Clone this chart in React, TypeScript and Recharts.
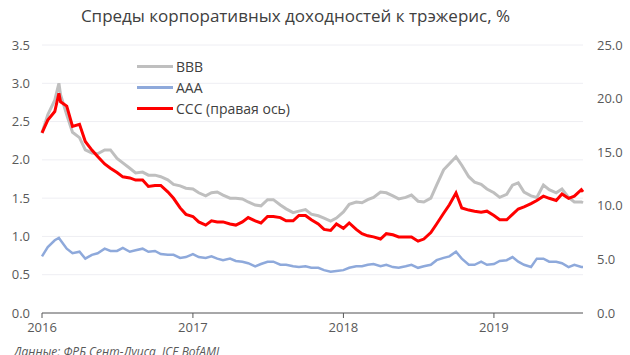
import React from "react";
import { LineChart, Line, XAxis, YAxis, CartesianGrid } from "recharts";

const dates = [
  "2016-01-01","2016-01-15","2016-02-01","2016-02-11","2016-02-15","2016-03-01","2016-03-15","2016-04-01","2016-04-15","2016-05-01","2016-05-15","2016-06-01","2016-06-15","2016-07-01","2016-07-15","2016-08-01","2016-08-15","2016-09-01","2016-09-15","2016-10-01","2016-10-15","2016-11-01","2016-11-15","2016-12-01","2016-12-15",
  "2017-01-01","2017-01-15","2017-02-01","2017-02-15","2017-03-01","2017-03-15","2017-04-01","2017-04-15","2017-05-01","2017-05-15","2017-06-01","2017-06-15","2017-07-01","2017-07-15","2017-08-01","2017-08-15","2017-09-01","2017-09-15","2017-10-01","2017-10-15","2017-11-01","2017-11-15","2017-12-01","2017-12-15",
  "2018-01-01","2018-01-15","2018-02-01","2018-02-15","2018-03-01","2018-03-15","2018-04-01","2018-04-15","2018-05-01","2018-05-15","2018-06-01","2018-06-15","2018-07-01","2018-07-15","2018-08-01","2018-08-15","2018-09-01","2018-09-15","2018-10-01","2018-10-15","2018-11-01","2018-11-15","2018-12-01","2018-12-15",
  "2019-01-01","2019-01-15","2019-02-01","2019-02-15","2019-03-01","2019-03-15","2019-04-01","2019-04-15","2019-05-01","2019-05-15","2019-06-01","2019-06-15","2019-07-01","2019-07-15","2019-08-01","2019-08-05"
];

const bbb = [
  2.35,2.59,2.78,3.00,2.85,2.59,2.36,2.29,2.13,2.09,2.08,2.13,2.13,2.02,1.96,1.89,1.83,1.84,1.80,1.80,1.78,1.74,1.68,1.66,1.63,
  1.62,1.57,1.53,1.57,1.58,1.54,1.50,1.50,1.49,1.45,1.41,1.40,1.48,1.48,1.41,1.36,1.31,1.33,1.35,1.29,1.27,1.24,1.20,1.24,
  1.32,1.42,1.45,1.44,1.48,1.51,1.58,1.57,1.53,1.49,1.51,1.54,1.46,1.45,1.50,1.67,1.87,1.95,2.04,1.93,1.78,1.71,1.68,1.62,
  1.57,1.51,1.55,1.67,1.70,1.58,1.53,1.51,1.67,1.61,1.57,1.62,1.51,1.45,1.45,1.44
];

const aaa = [
  0.74,0.86,0.95,0.98,0.95,0.84,0.78,0.80,0.71,0.76,0.78,0.84,0.81,0.81,0.85,0.80,0.82,0.84,0.80,0.81,0.77,0.76,0.76,0.72,0.73,
  0.77,0.73,0.72,0.74,0.71,0.69,0.71,0.68,0.67,0.65,0.61,0.64,0.67,0.67,0.63,0.63,0.61,0.60,0.61,0.59,0.59,0.56,0.54,0.55,
  0.56,0.59,0.61,0.61,0.63,0.64,0.61,0.63,0.60,0.59,0.61,0.63,0.59,0.61,0.63,0.69,0.72,0.74,0.80,0.71,0.63,0.63,0.67,0.63,
  0.64,0.68,0.69,0.73,0.67,0.63,0.60,0.71,0.71,0.67,0.67,0.65,0.60,0.63,0.60,0.60
];

const ccc = [
  16.8,18.0,18.8,20.5,19.7,19.3,17.4,17.6,16.0,15.2,14.6,13.9,13.5,13.1,12.7,12.6,12.4,12.4,11.8,11.9,11.9,11.3,10.7,9.8,9.2,
  9.0,8.5,8.2,8.6,8.5,8.5,8.3,8.2,8.5,8.9,8.6,8.4,9.0,9.0,8.9,8.6,8.6,9.1,9.1,8.7,8.3,7.8,7.7,8.3,
  7.9,8.4,7.8,7.4,7.2,7.1,6.9,7.4,7.3,7.1,7.1,7.1,6.7,6.9,7.5,8.3,9.3,10.1,11.2,9.8,9.6,9.5,9.4,9.5,
  9.1,8.7,8.7,9.2,9.7,9.9,10.2,10.5,10.9,10.7,10.5,11.1,10.7,10.9,11.5,11.3
];

const yearTicks = ["2016-01-01", "2017-01-01", "2018-01-01", "2019-01-01"];
const leftTicks = [0, 0.5, 1, 1.5, 2, 2.5, 3, 3.5];
const rightTicks = [0, 5, 10, 15, 20, 25];

const title = "Спреды корпоративных доходностей к трэжерис, %";
const source = "Данные: ФРБ Сент-Луиса, ICE BofAML";

const seriesInfo = [
  { key: "bbb", name: "BBB", color: "#BFBFBF" },
  { key: "aaa", name: "AAA", color: "#8EA9DB" },
  { key: "ccc", name: "CCC (правая ось)", color: "#FF0000" },
];

const toTs = (d: string) => Date.parse(d + "T00:00:00Z");

const data = dates.map((d, i) => ({ t: toTs(d), bbb: bbb[i], aaa: aaa[i], ccc: ccc[i] }));

const FONT = "'Open Sans', 'DejaVu Sans', sans-serif";

export default function App() {
  return (
    <div style={{ position: "absolute", left: 0, top: 0, width: 630, height: 355, background: "#fff", overflow: "hidden", fontFamily: FONT }}>
      <div style={{ position: "absolute", left: 0, top: 4, width: 591, textAlign: "center", fontSize: 17, color: "#404040", lineHeight: "24px", whiteSpace: "nowrap" }}>
        {title}
      </div>
      <LineChart
        width={630}
        height={355}
        data={data}
        margin={{ top: 45, right: 7, bottom: 12, left: 8 }}
        style={{ position: "absolute", left: 0, top: 0 }}
      >
        <CartesianGrid horizontal vertical={false} stroke="#EEEEF3" yAxisId="left" />
        <XAxis
          dataKey="t"
          type="number"
          scale="linear"
          domain={[toTs("2016-01-01"), toTs("2019-08-05")]}
          ticks={yearTicks.map(toTs)}
          tickFormatter={(v: number) => String(new Date(v).getUTCFullYear())}
          height={30}
          tickSize={5}
          tickMargin={5}
          axisLine={{ stroke: "#595959" }}
          tickLine={{ stroke: "#595959" }}
          tick={{ fill: "#595959", fontSize: 13, fontFamily: FONT }}
          interval={0}
        />
        <YAxis
          yAxisId="left"
          orientation="left"
          domain={[0, 3.5]}
          ticks={leftTicks}
          width={34}
          axisLine={false}
          tickLine={false}
          tickSize={0}
          tickMargin={12}
          tickFormatter={(v: number) => v.toFixed(1)}
          tick={{ fill: "#595959", fontSize: 13, fontFamily: FONT }}
          interval={0}
        />
        <YAxis
          yAxisId="right"
          orientation="right"
          domain={[0, 25]}
          ticks={rightTicks}
          width={40}
          axisLine={false}
          tickLine={false}
          tickSize={0}
          tickMargin={14}
          tickFormatter={(v: number) => v.toFixed(1)}
          tick={{ fill: "#595959", fontSize: 13, fontFamily: FONT, textAnchor: "start" }}
          interval={0}
        />
        <Line yAxisId="left" type="linear" dataKey="bbb" name="BBB" stroke="#BFBFBF" strokeWidth={3} dot={false} isAnimationActive={false} />
        <Line yAxisId="left" type="linear" dataKey="aaa" name="AAA" stroke="#8EA9DB" strokeWidth={2.5} dot={false} isAnimationActive={false} />
        <Line yAxisId="right" type="linear" dataKey="ccc" name="CCC (правая ось)" stroke="#FF0000" strokeWidth={3} dot={false} isAnimationActive={false} />
      </LineChart>
      <div style={{ position: "absolute", left: 137, top: 55.5, fontSize: 14, color: "#404040" }}>
        {seriesInfo.map((s) => (
          <div key={s.key} style={{ display: "flex", alignItems: "center", height: 21 }}>
            <div style={{ width: 36, height: 3, background: s.color, marginRight: 3 }} />
            <span style={{ lineHeight: "21px", whiteSpace: "nowrap" }}>{s.name}</span>
          </div>
        ))}
      </div>
      <div style={{ position: "absolute", left: 14, top: 343, fontSize: 12, fontStyle: "italic", color: "#595959", whiteSpace: "nowrap" }}>
        {source}
      </div>
    </div>
  );
}
